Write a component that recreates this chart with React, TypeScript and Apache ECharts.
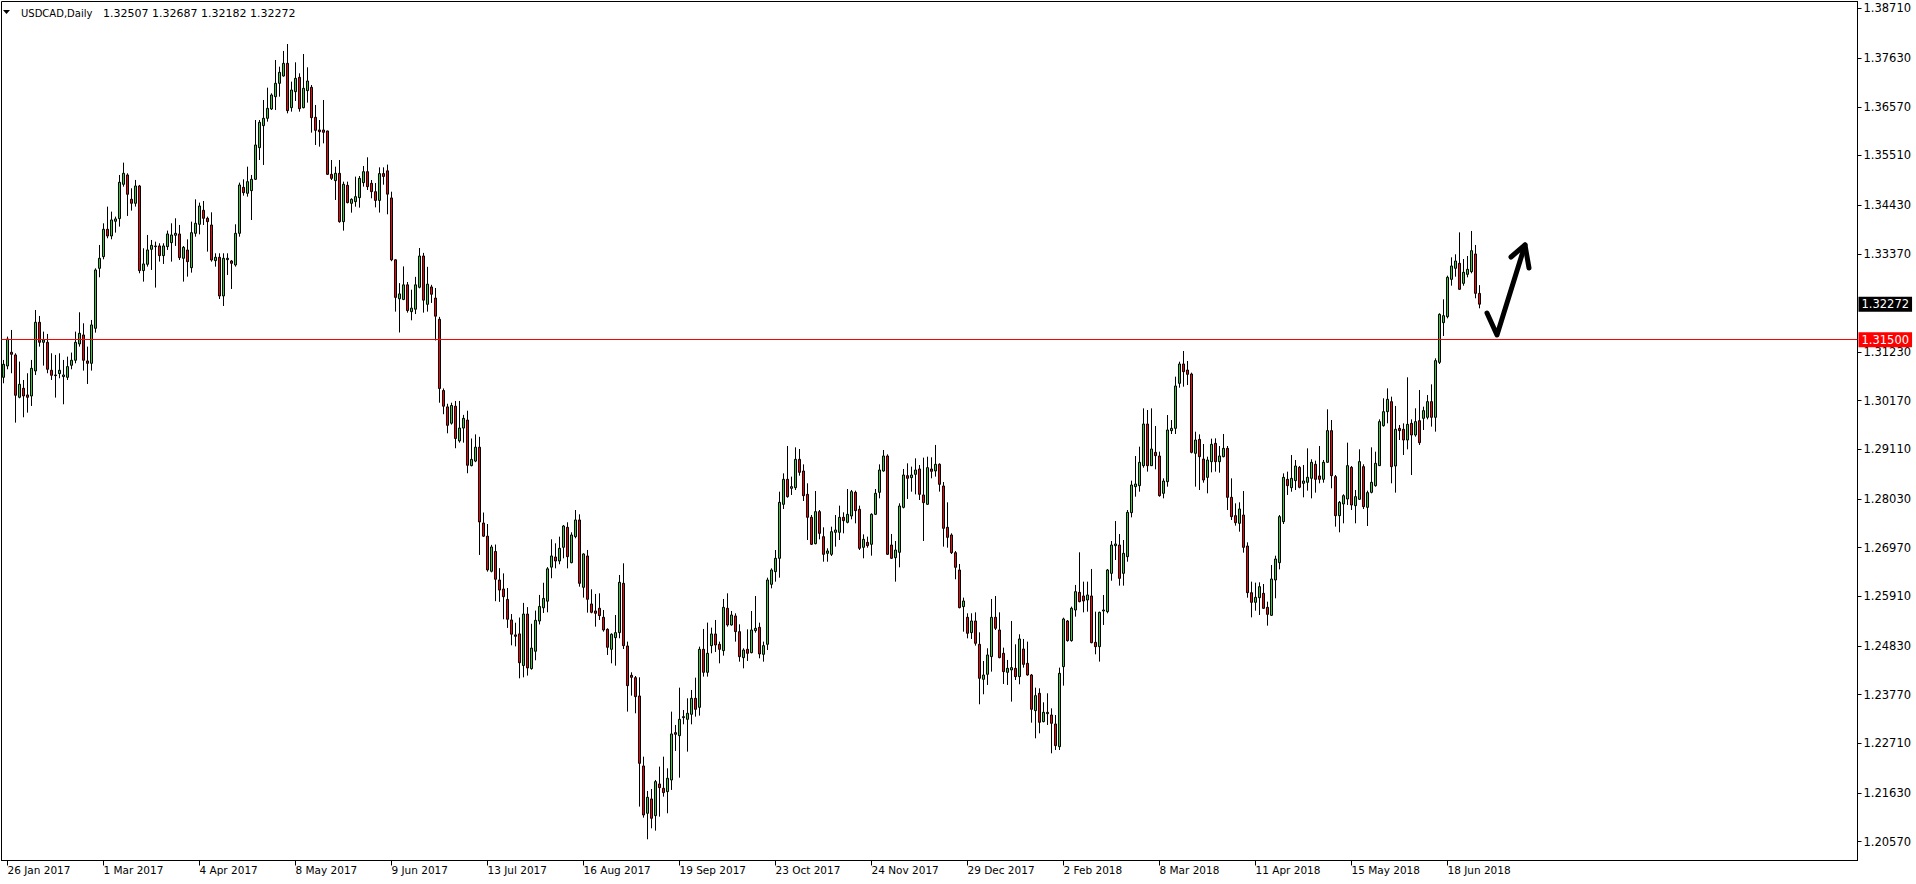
import React, { useEffect, useRef } from "react";
import * as echarts from "echarts";

// ---- DATA ----
// Each bar: [open, close, low, high]; bar 0 = 25 Jan 2017, daily bars (weekdays)
const ohlcJanMay2017: number[][] = [
  [1.3068, 1.30963, 1.3055, 1.31058], [1.30927, 1.31515, 1.30855, 1.31566], [1.31225, 1.31181, 1.30768, 1.31711],
  [1.31167, 1.30289, 1.29693, 1.31203], [1.30245, 1.30528, 1.30223, 1.31022], [1.30441, 1.30274, 1.2981, 1.30622],
  [1.30296, 1.30245, 1.29911, 1.30768], [1.30274, 1.30876, 1.30056, 1.31058], [1.30818, 1.31878, 1.30731, 1.32146],
  [1.31878, 1.31442, 1.31348, 1.32016], [1.31442, 1.31493, 1.30934, 1.31675], [1.31442, 1.30855, 1.30768, 1.31624],
  [1.30833, 1.30724, 1.30622, 1.31203], [1.30731, 1.30717, 1.30238, 1.31167], [1.3076, 1.30833, 1.30659, 1.31203],
  [1.30695, 1.30731, 1.30093, 1.31058], [1.3068, 1.30913, 1.30622, 1.3113], [1.30942, 1.31051, 1.30855, 1.31218],
  [1.31051, 1.31442, 1.30985, 1.31675], [1.31406, 1.31638, 1.31348, 1.32096], [1.31602, 1.31051, 1.30826, 1.31856],
  [1.31036, 1.30985, 1.30535, 1.31348], [1.30985, 1.3182, 1.30826, 1.31929], [1.31747, 1.33017, 1.31653, 1.33053],
  [1.33053, 1.33271, 1.32858, 1.33561], [1.33307, 1.33903, 1.33249, 1.34033], [1.33903, 1.33757, 1.33707, 1.34396],
  [1.33757, 1.34106, 1.33685, 1.34287], [1.34077, 1.34128, 1.3383, 1.34178], [1.34135, 1.34926, 1.33961, 1.35085],
  [1.34882, 1.35122, 1.34831, 1.35354], [1.35085, 1.34665, 1.34193, 1.35122], [1.34556, 1.34469, 1.34309, 1.34795],
  [1.34469, 1.34846, 1.34396, 1.34977], [1.34846, 1.33003, 1.32945, 1.34868], [1.33003, 1.33148, 1.32763, 1.33489],
  [1.33141, 1.33453, 1.3309, 1.33779], [1.33467, 1.33554, 1.33017, 1.3367], [1.33525, 1.3354, 1.32633, 1.33634],
  [1.3354, 1.33329, 1.33199, 1.33598], [1.33329, 1.3354, 1.33148, 1.33598], [1.33525, 1.33801, 1.33453, 1.33874],
  [1.33612, 1.33779, 1.33199, 1.34033], [1.33772, 1.33815, 1.3354, 1.34142], [1.33801, 1.33286, 1.33235, 1.33997],
  [1.33271, 1.3351, 1.32763, 1.33539], [1.33452, 1.33198, 1.32872, 1.33684], [1.33067, 1.33829, 1.32959, 1.34069],
  [1.33815, 1.34033, 1.33742, 1.34555], [1.34011, 1.3441, 1.33793, 1.34483], [1.34316, 1.34142, 1.33996, 1.34519],
  [1.34142, 1.34069, 1.33416, 1.34178], [1.33996, 1.33234, 1.33198, 1.34272], [1.3322, 1.33293, 1.33089, 1.3338],
  [1.33293, 1.32451, 1.32385, 1.3338], [1.32451, 1.33271, 1.32233, 1.3338], [1.33242, 1.33271, 1.32908, 1.3338],
  [1.33213, 1.33162, 1.32603, 1.33234], [1.33126, 1.33815, 1.33089, 1.34011], [1.33815, 1.34867, 1.33742, 1.34918],
  [1.34816, 1.347, 1.34635, 1.34991], [1.34686, 1.3494, 1.34613, 1.35266], [1.34744, 1.34991, 1.34105, 1.35085],
  [1.34991, 1.35738, 1.34976, 1.36282], [1.3568, 1.36232, 1.35411, 1.36282], [1.36159, 1.36319, 1.35303, 1.36718],
  [1.36319, 1.36536, 1.36246, 1.36986], [1.36522, 1.36827, 1.365, 1.36863], [1.3679, 1.37081, 1.365, 1.37589],
  [1.37081, 1.3732, 1.3679, 1.37443], [1.3724, 1.37516, 1.37226, 1.37785], [1.37516, 1.36486, 1.36427, 1.37937],
  [1.36551, 1.36935, 1.36464, 1.37117], [1.36899, 1.37189, 1.36696, 1.37538], [1.37211, 1.36529, 1.36464, 1.37298],
  [1.36551, 1.36972, 1.36536, 1.37719], [1.36921, 1.37131, 1.3666, 1.37429], [1.36994, 1.36333, 1.36007, 1.37044],
  [1.3634, 1.36057, 1.35738, 1.36609], [1.36065, 1.36028, 1.35702, 1.36282], [1.36065, 1.36014, 1.35774, 1.36718],
  [1.36043, 1.35099, 1.35085, 1.3605], [1.35099, 1.35012, 1.34976, 1.35411], [1.34962, 1.35121, 1.34541, 1.35266],
  [1.35121, 1.34069, 1.34047, 1.35411], [1.34069, 1.34882, 1.33873, 1.3494], [1.3486, 1.34483, 1.34468, 1.3494],
  [1.34468, 1.34555, 1.34265, 1.34577], [1.34504, 1.34613, 1.34395, 1.35049], [1.34591, 1.35012, 1.34374, 1.35063],
  [1.34918, 1.35157, 1.34831, 1.35281], [1.35157, 1.34831, 1.34758, 1.3547], [1.34904, 1.34722, 1.34577, 1.34976],
];

const ohlcJunSep2017: number[][] = [
  [1.34721, 1.34532, 1.3438, 1.3491], [1.34532, 1.35115, 1.34267, 1.35251], [1.35115, 1.35054, 1.34873, 1.35251],
  [1.35175, 1.34668, 1.34229, 1.35311], [1.34585, 1.33238, 1.33208, 1.34721], [1.33238, 1.3242, 1.3211, 1.3325],
  [1.3239, 1.32496, 1.31656, 1.32731], [1.32375, 1.32693, 1.3236, 1.33094], [1.32693, 1.32133, 1.32088, 1.32754],
  [1.3211, 1.32186, 1.31921, 1.32587], [1.32163, 1.32693, 1.32057, 1.32867], [1.3264, 1.33321, 1.32617, 1.33495],
  [1.33321, 1.3236, 1.32088, 1.33389], [1.32269, 1.32708, 1.3211, 1.33086], [1.32647, 1.32488, 1.32299, 1.32693],
  [1.32405, 1.32011, 1.31482, 1.32625], [1.31943, 1.30437, 1.30127, 1.31996], [1.30392, 1.30051, 1.29877, 1.30437],
  [1.30036, 1.29635, 1.29461, 1.30104], [1.29681, 1.30067, 1.2965, 1.30127], [1.30051, 1.29348, 1.29136, 1.30165],
  [1.29295, 1.29575, 1.29257, 1.30165], [1.29575, 1.29786, 1.29257, 1.29862], [1.29749, 1.28765, 1.28591, 1.29953],
  [1.28757, 1.28893, 1.28742, 1.29348], [1.28856, 1.29158, 1.28833, 1.29438], [1.29158, 1.27531, 1.26812, 1.29385],
  [1.27508, 1.27221, 1.27206, 1.27736], [1.27221, 1.26487, 1.26449, 1.27486], [1.26457, 1.26986, 1.26434, 1.27032],
  [1.26888, 1.26283, 1.25806, 1.27039], [1.26267, 1.26048, 1.25791, 1.26525], [1.26071, 1.25904, 1.25412, 1.26411],
  [1.25844, 1.25412, 1.25223, 1.26093], [1.25397, 1.25087, 1.24845, 1.25526], [1.25072, 1.25041, 1.24822, 1.25337],
  [1.25094, 1.24466, 1.24126, 1.2545], [1.24406, 1.25526, 1.24148, 1.25768], [1.25526, 1.24353, 1.24186, 1.25677],
  [1.24338, 1.24784, 1.24315, 1.25314], [1.24716, 1.25389, 1.24519, 1.25601], [1.25374, 1.25692, 1.25299, 1.25942],
  [1.25662, 1.25866, 1.25549, 1.26207], [1.25806, 1.2651, 1.25564, 1.26547], [1.26547, 1.2679, 1.26305, 1.27153],
  [1.26768, 1.26681, 1.26521, 1.27066], [1.26681, 1.26957, 1.26609, 1.27211], [1.26979, 1.27443, 1.26739, 1.27465],
  [1.27414, 1.26775, 1.26521, 1.27523], [1.26645, 1.27247, 1.2663, 1.27305], [1.27211, 1.27574, 1.27175, 1.27791],
  [1.27574, 1.26195, 1.26122, 1.27697], [1.26108, 1.26834, 1.25883, 1.26848], [1.2679, 1.25847, 1.25556, 1.26921],
  [1.25745, 1.25564, 1.25542, 1.26064], [1.25593, 1.25542, 1.25251, 1.25963], [1.25651, 1.25491, 1.25397, 1.25977],
  [1.25455, 1.25179, 1.25143, 1.25614], [1.25193, 1.24802, 1.24635, 1.25215], [1.24758, 1.25085, 1.24453, 1.25106],
  [1.25012, 1.25121, 1.24402, 1.25505], [1.25121, 1.26217, 1.24998, 1.26376], [1.26195, 1.24838, 1.24765, 1.2663],
  [1.24831, 1.23967, 1.23401, 1.24925], [1.24192, 1.24148, 1.23749, 1.24257], [1.24141, 1.23728, 1.23365, 1.24177],
  [1.23742, 1.22276, 1.21333, 1.24148], [1.22218, 1.21151, 1.21093, 1.22421], [1.21188, 1.21536, 1.20622, 1.21674],
  [1.215, 1.21079, 1.20861, 1.21717], [1.21137, 1.21877, 1.2081, 1.21913], [1.21826, 1.21746, 1.21115, 1.22204],
  [1.21732, 1.21638, 1.2155, 1.22421], [1.21659, 1.2195, 1.21188, 1.22167], [1.21913, 1.22915, 1.21696, 1.23401],
  [1.22944, 1.22907, 1.22545, 1.23111], [1.22878, 1.23234, 1.21964, 1.23923], [1.2327, 1.23292, 1.23125, 1.23437],
  [1.23234, 1.23365, 1.2253, 1.23691], [1.23343, 1.23691, 1.23125, 1.23873], [1.23691, 1.23452, 1.23292, 1.24141],
  [1.23495, 1.24758, 1.23314, 1.24816], [1.24758, 1.24257, 1.24163, 1.25201], [1.24257, 1.24671, 1.24163, 1.25339],
  [1.24838, 1.25092, 1.24671, 1.2523], [1.25092, 1.24852, 1.247, 1.25397], [1.24867, 1.24758, 1.24453, 1.24925],
  [1.24729, 1.25672, 1.2462, 1.25854], [1.25651, 1.25288, 1.25251, 1.25977], [1.25288, 1.25505, 1.25273, 1.25593],
  [1.25484, 1.25143, 1.24925, 1.25542],
];

const ohlcOct2017Jan2018: number[][] = [
  [1.25142, 1.24598, 1.24489, 1.25302], [1.24576, 1.24743, 1.24344, 1.2478], [1.24758, 1.24671, 1.24504, 1.25193],
  [1.24685, 1.25179, 1.24671, 1.25592], [1.25164, 1.25215, 1.25121, 1.25919], [1.25237, 1.24656, 1.24562, 1.25338],
  [1.24649, 1.24838, 1.24489, 1.24925], [1.24867, 1.26267, 1.24743, 1.26318], [1.26173, 1.26485, 1.26086, 1.26521],
  [1.26449, 1.26739, 1.26231, 1.2692], [1.26739, 1.27958, 1.26318, 1.2819], [1.27915, 1.28459, 1.27813, 1.28589],
  [1.28459, 1.28081, 1.2806, 1.29185], [1.28263, 1.28299, 1.28118, 1.28517], [1.28277, 1.28894, 1.28227, 1.29155],
  [1.28894, 1.28611, 1.28539, 1.29119], [1.2864, 1.28103, 1.27987, 1.28785], [1.28132, 1.27632, 1.27138, 1.28372],
  [1.27632, 1.27044, 1.27029, 1.27682], [1.27058, 1.27755, 1.27044, 1.28205], [1.27755, 1.27283, 1.27153, 1.27791],
  [1.27211, 1.26826, 1.26666, 1.27414], [1.26848, 1.26899, 1.26666, 1.26957], [1.26826, 1.27319, 1.2679, 1.27428],
  [1.27305, 1.27356, 1.26993, 1.27682], [1.27305, 1.27632, 1.27138, 1.27886], [1.27632, 1.27559, 1.27283, 1.2774],
  [1.27523, 1.27697, 1.27501, 1.28248], [1.27661, 1.2819, 1.27588, 1.28227], [1.28176, 1.27777, 1.27501, 1.28212],
  [1.27806, 1.26957, 1.2692, 1.27886], [1.26978, 1.27153, 1.26739, 1.27261], [1.27087, 1.27015, 1.26971, 1.27211],
  [1.27044, 1.27697, 1.26797, 1.27719], [1.27697, 1.28154, 1.27682, 1.28248], [1.28176, 1.28662, 1.28045, 1.28785],
  [1.2864, 1.28967, 1.28626, 1.29097], [1.28967, 1.26826, 1.26811, 1.29003], [1.27029, 1.26739, 1.26724, 1.27269],
  [1.26753, 1.2692, 1.26231, 1.27116], [1.2687, 1.27878, 1.26543, 1.27936], [1.27849, 1.28553, 1.27827, 1.28684],
  [1.28539, 1.28481, 1.28031, 1.28807], [1.28495, 1.28553, 1.2819, 1.28735], [1.28568, 1.28662, 1.28132, 1.28916],
  [1.28684, 1.28132, 1.28009, 1.28771], [1.28118, 1.27951, 1.27116, 1.28931], [1.27915, 1.28713, 1.279, 1.28952],
  [1.28684, 1.28633, 1.28481, 1.28938], [1.28641, 1.28786, 1.28517, 1.29207], [1.28786, 1.2835, 1.28191, 1.28807],
  [1.28314, 1.27392, 1.26993, 1.284], [1.27414, 1.27196, 1.26971, 1.27958], [1.27247, 1.26862, 1.26833, 1.27283],
  [1.26862, 1.26543, 1.26282, 1.26898], [1.26485, 1.25665, 1.2565, 1.26616], [1.25687, 1.2581, 1.25142, 1.25883],
  [1.25455, 1.25106, 1.24997, 1.25542], [1.25121, 1.25375, 1.24983, 1.25542], [1.25375, 1.24889, 1.24838, 1.25563],
  [1.24867, 1.24127, 1.23561, 1.25128], [1.24105, 1.24199, 1.23779, 1.24504], [1.24214, 1.24635, 1.23982, 1.2478],
  [1.24599, 1.25455, 1.24272, 1.25854], [1.25455, 1.25216, 1.25179, 1.25919], [1.25179, 1.24577, 1.24562, 1.25563],
  [1.24671, 1.24272, 1.24003, 1.24794], [1.24257, 1.24344, 1.23982, 1.24526], [1.24308, 1.24359, 1.23619, 1.25375],
  [1.24344, 1.24163, 1.2409, 1.24867], [1.24163, 1.24983, 1.23996, 1.25085], [1.24765, 1.24431, 1.24359, 1.24983],
  [1.24453, 1.24199, 1.24185, 1.24925], [1.24199, 1.23452, 1.23161, 1.24221], [1.23423, 1.23749, 1.2282, 1.23923],
  [1.238, 1.23169, 1.22929, 1.23909], [1.23183, 1.23386, 1.23169, 1.23604], [1.23357, 1.23386, 1.23111, 1.238],
  [1.23328, 1.23147, 1.22494, 1.23473], [1.23132, 1.22661, 1.22566, 1.23328], [1.22639, 1.24235, 1.22566, 1.24359],
  [1.24381, 1.25418, 1.23967, 1.25447], [1.25375, 1.24947, 1.24925, 1.25396], [1.24947, 1.25651, 1.24925, 1.25687],
  [1.25614, 1.26013, 1.25469, 1.26159], [1.25999, 1.25796, 1.25781, 1.2687], [1.25919, 1.2581, 1.25563, 1.26231],
  [1.25832, 1.25941, 1.25578, 1.26231], [1.25919, 1.24903, 1.24889, 1.26507], [1.2491, 1.24816, 1.24649, 1.25578],
  [1.24816, 1.25563, 1.2449, 1.25578], [1.25593, 1.25614, 1.25288, 1.25941], [1.25578, 1.26485, 1.25542, 1.26507],
];

const ohlcFebJun2018: number[][] = [
  [1.26412, 1.27029, 1.26252, 1.27116], [1.27014, 1.27051, 1.26702, 1.27551], [1.27029, 1.26303, 1.26144, 1.27268],
  [1.26412, 1.26848, 1.26144, 1.27138], [1.26775, 1.2774, 1.26666, 1.27791], [1.27733, 1.28335, 1.27631, 1.2843],
  [1.28299, 1.28357, 1.28081, 1.28967], [1.28321, 1.28829, 1.2819, 1.2917], [1.28756, 1.29663, 1.28713, 1.30004],
  [1.29663, 1.28756, 1.28626, 1.29968], [1.28756, 1.29119, 1.28749, 1.30004], [1.29046, 1.28974, 1.28677, 1.2962],
  [1.28967, 1.28103, 1.28081, 1.29061], [1.28154, 1.28422, 1.28045, 1.2848], [1.28408, 1.29533, 1.28299, 1.29859],
  [1.29518, 1.29569, 1.29446, 1.2975], [1.29569, 1.30491, 1.29446, 1.30694], [1.30549, 1.3097, 1.30454, 1.3102],
  [1.3097, 1.30803, 1.30476, 1.31253], [1.30839, 1.30745, 1.30512, 1.31035], [1.30752, 1.29046, 1.29025, 1.30781],
  [1.29025, 1.29315, 1.28299, 1.29496], [1.29329, 1.28952, 1.28226, 1.29438], [1.28901, 1.28444, 1.28386, 1.29228],
  [1.28502, 1.28879, 1.28154, 1.28952], [1.28843, 1.29221, 1.28611, 1.29344], [1.29242, 1.28843, 1.28626, 1.29351],
  [1.28843, 1.28967, 1.28604, 1.29184], [1.28952, 1.29133, 1.28938, 1.29446], [1.29133, 1.28067, 1.27791, 1.29184],
  [1.28067, 1.27646, 1.27573, 1.2848], [1.27668, 1.27515, 1.2745, 1.27936], [1.27501, 1.27813, 1.27319, 1.27958],
  [1.27682, 1.26978, 1.26862, 1.28205], [1.27007, 1.25991, 1.25882, 1.27087], [1.25991, 1.25781, 1.25454, 1.26231],
  [1.25781, 1.2589, 1.25599, 1.26209], [1.25882, 1.26122, 1.25505, 1.26216], [1.25977, 1.2565, 1.25636, 1.2618],
  [1.25672, 1.25519, 1.25273, 1.25795], [1.25498, 1.26289, 1.25483, 1.26594], [1.26267, 1.26724, 1.25868, 1.26797],
  [1.26644, 1.27646, 1.26499, 1.27682], [1.27537, 1.28502, 1.27486, 1.28589], [1.28459, 1.28321, 1.28118, 1.28626],
  [1.28277, 1.2848, 1.2819, 1.28988], [1.2843, 1.28749, 1.28226, 1.28879], [1.2872, 1.28285, 1.28263, 1.28749],
  [1.28372, 1.28423, 1.28067, 1.28771], [1.28394, 1.28503, 1.28212, 1.29134], [1.28481, 1.28829, 1.28045, 1.28895],
  [1.28786, 1.28459, 1.28169, 1.28865], [1.28532, 1.28459, 1.28372, 1.29185], [1.28459, 1.28829, 1.28386, 1.2888],
  [1.28829, 1.29519, 1.28822, 1.29983], [1.29519, 1.28539, 1.28263, 1.29751], [1.28517, 1.27668, 1.27429, 1.28553],
  [1.27668, 1.27958, 1.27305, 1.27987], [1.27922, 1.28103, 1.27501, 1.28133], [1.28031, 1.28757, 1.279, 1.29257],
  [1.2872, 1.279, 1.27791, 1.28749], [1.27886, 1.28082, 1.27501, 1.28227], [1.28024, 1.28844, 1.28009, 1.29112],
  [1.28735, 1.27864, 1.27813, 1.28786], [1.27849, 1.28169, 1.27443, 1.28212], [1.28176, 1.28394, 1.28154, 1.29156],
  [1.28321, 1.28807, 1.28299, 1.29061], [1.28757, 1.29715, 1.28749, 1.29765], [1.29627, 1.29932, 1.29606, 1.30223],
  [1.29932, 1.30201, 1.29678, 1.3044], [1.3015, 1.28735, 1.28372, 1.30259], [1.28749, 1.29548, 1.28169, 1.30056],
  [1.29569, 1.29519, 1.29315, 1.29642], [1.29548, 1.29315, 1.28989, 1.29678], [1.29315, 1.29656, 1.29112, 1.3068],
  [1.29678, 1.29424, 1.28553, 1.29765], [1.29424, 1.29715, 1.29388, 1.30005], [1.29736, 1.29257, 1.29207, 1.30404],
  [1.29787, 1.29954, 1.29533, 1.30041], [1.29809, 1.3015, 1.29765, 1.30295], [1.3015, 1.29809, 1.29606, 1.30527],
  [1.29809, 1.31043, 1.29497, 1.31093], [1.31006, 1.32051, 1.3097, 1.32073], [1.3187, 1.32022, 1.3158, 1.32378],
  [1.32, 1.32857, 1.31964, 1.32893], [1.32813, 1.33104, 1.32675, 1.33292], [1.33053, 1.33212, 1.32871, 1.33358],
  [1.33162, 1.32596, 1.32581, 1.33836], [1.32726, 1.32966, 1.32675, 1.33256], [1.32922, 1.33031, 1.32857, 1.33321],
  [1.3298, 1.33437, 1.32944, 1.33866], [1.33365, 1.32508, 1.324, 1.33561], [1.32507, 1.32272, 1.32182, 1.32687],
];

// x-axis tick labels: [bar index, text]
const dateTicks: [number, string][] = [
  [1, "26 Jan 2017"], [25, "1 Mar 2017"], [49, "4 Apr 2017"], [73, "8 May 2017"],
  [97, "9 Jun 2017"], [121, "13 Jul 2017"], [145, "16 Aug 2017"], [169, "19 Sep 2017"],
  [193, "23 Oct 2017"], [217, "24 Nov 2017"], [241, "29 Dec 2017"], [265, "2 Feb 2018"],
  [289, "8 Mar 2018"], [313, "11 Apr 2018"], [337, "15 May 2018"], [361, "18 Jun 2018"],
];

// right-axis price labels
const priceTicks: number[] = [
  1.3871, 1.3763, 1.3657, 1.3551, 1.3443, 1.3337, 1.3123, 1.3017, 1.2911,
  1.2803, 1.2697, 1.2591, 1.2483, 1.2377, 1.2271, 1.2163, 1.2057,
];

const levelLine = 1.315;
const lastPrice = 1.32272;
const titleSymbol = "USDCAD,Daily";
const titleQuote = "1.32507 1.32687 1.32182 1.32272";
const SLOTS = 464; // visible bar slots (chart shifted to the right)

export default function App() {
  const ref = useRef<HTMLDivElement>(null);

  useEffect(() => {
    if (!ref.current) return;
    const chart = echarts.init(ref.current, null, { renderer: "svg" });
    const bars = [...ohlcJanMay2017, ...ohlcJunSep2017, ...ohlcOct2017Jan2018, ...ohlcFebJun2018];
    const categories = Array.from({ length: SLOTS }, (_, i) => String(i));
    const tickMap = new Map<number, string>(dateTicks);
    const font = "DejaVu Sans";

    chart.setOption({
      animation: false,
      backgroundColor: "#ffffff",
      grid: {
        left: 1.5, right: 58.5, top: 1.5, bottom: 23.5,
        show: true, borderColor: "#000", borderWidth: 1, backgroundColor: "transparent",
      },
      xAxis: {
        type: "category",
        data: categories,
        boundaryGap: true,
        axisLine: { show: true, lineStyle: { color: "#000", width: 1 } },
        axisTick: {
          show: true, alignWithLabel: true, length: 5, lineStyle: { color: "#000" },
          interval: (i: number) => tickMap.has(i),
        },
        axisLabel: {
          interval: (i: number) => tickMap.has(i),
          formatter: (_v: string, i: number) => tickMap.get(i) || "",
          align: "left", margin: 4,
          color: "#000", fontFamily: font, fontSize: 10.5,
        },
        splitLine: { show: false },
      },
      yAxis: {
        type: "value",
        position: "right",
        min: 1.2016,
        max: 1.38862,
        splitLine: { show: false },
        axisLine: { show: true, lineStyle: { color: "#000", width: 1 } },
        axisTick: { show: true, length: 4, lineStyle: { color: "#000" }, customValues: priceTicks },
        axisLabel: {
          customValues: priceTicks,
          formatter: (v: number) => v.toFixed(5),
          color: "#000", fontFamily: font, fontSize: 11.5, margin: 6,
        },
      },
      series: [
        {
          type: "candlestick",
          data: bars,
          barWidth: 2,
          itemStyle: {
            color: "#32cd32", color0: "#ff0000",
            borderColor: "#000", borderColor0: "#000", borderWidth: 1,
          },
          emphasis: { disabled: true },
          markLine: {
            silent: true,
            precision: 5,
            symbol: ["none", "none"],
            data: [
              {
                yAxis: levelLine,
                lineStyle: { color: "#ff0000", width: 1, type: "solid" },
                label: {
                  show: true, position: "end", distance: 1,
                  formatter: () => levelLine.toFixed(5),
                  color: "#fff", backgroundColor: "#ff0000", padding: [2, 3, 1, 3],
                  fontFamily: font, fontSize: 11.5,
                },
              },
              {
                yAxis: lastPrice,
                lineStyle: { color: "transparent", width: 0 },
                label: {
                  show: true, position: "end", distance: 1,
                  formatter: () => lastPrice.toFixed(5),
                  color: "#fff", backgroundColor: "#000", padding: [2, 3, 1, 3],
                  fontFamily: font, fontSize: 11.5,
                },
              },
            ],
          },
        },
      ],
      graphic: [
        { type: "polygon", shape: { points: [[3, 10], [10, 10], [6.5, 14]] }, style: { fill: "#000" } },
        {
          type: "text", x: 21, y: 13,
          style: { text: titleSymbol, fill: "#000", fontFamily: font, fontSize: 10, verticalAlign: "middle" },
        },
        {
          type: "text", x: 103, y: 13,
          style: { text: titleQuote, fill: "#000", fontFamily: font, fontSize: 11, verticalAlign: "middle" },
        },
        {
          type: "polyline",
          shape: { points: [[1487, 313], [1497, 335], [1525, 245]] },
          style: { stroke: "#000", lineWidth: 5, fill: null, lineJoin: "round", lineCap: "round" },
        },
        {
          type: "polyline",
          shape: { points: [[1511, 257], [1525, 245], [1529, 268]] },
          style: { stroke: "#000", lineWidth: 5, fill: null, lineJoin: "round", lineCap: "round" },
        },
      ],
    });

    return () => chart.dispose();
  }, []);

  return (
    <div
      ref={ref}
      style={{ position: "fixed", left: 0, top: 0, width: 1916, height: 884, background: "#fff" }}
    />
  );
}
